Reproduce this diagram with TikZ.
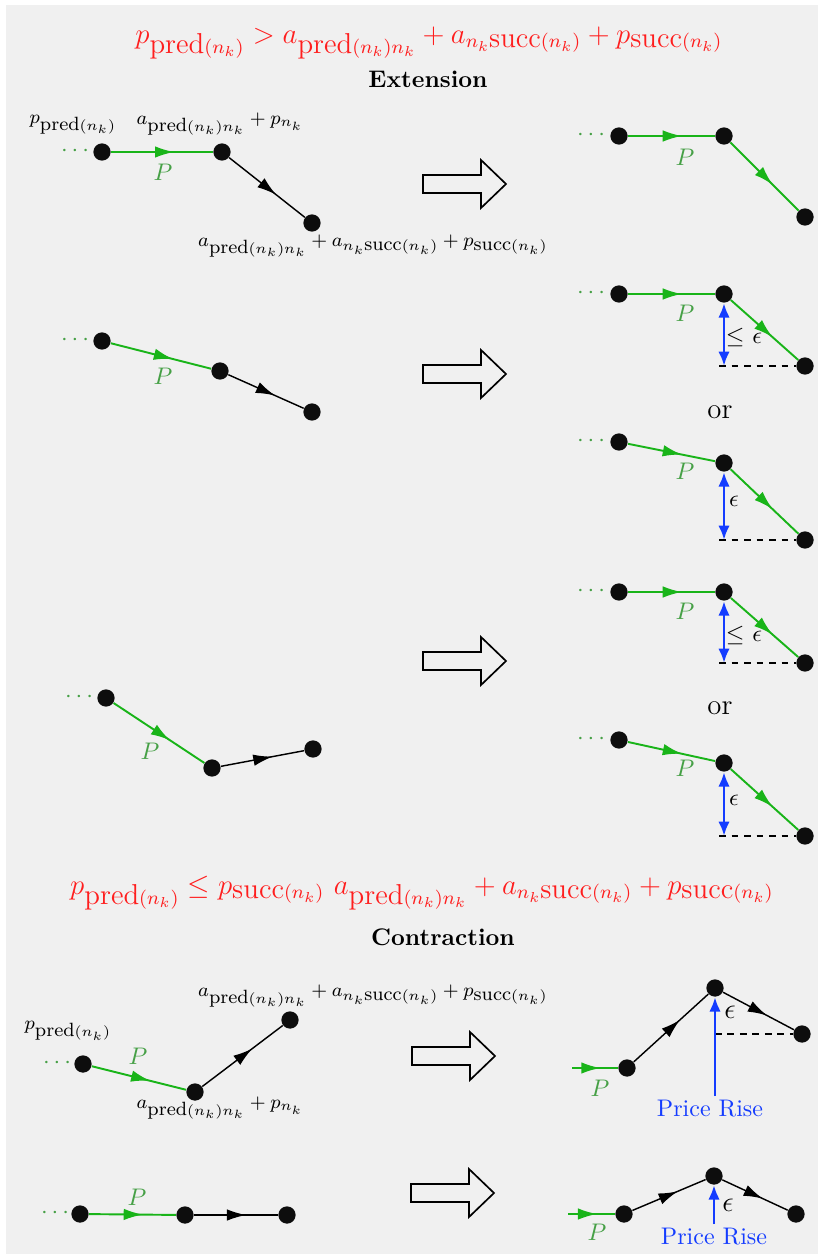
\documentclass[tikz,border=0pt]{standalone}
\usetikzlibrary{arrows.meta,decorations.markings,calc}

\definecolor{panel}{RGB}{240,240,240}
\definecolor{pathgreen}{RGB}{25,180,25}
\definecolor{labgreen}{RGB}{70,160,70}
\definecolor{riseblue}{RGB}{20,60,255}
\definecolor{condred}{RGB}{255,30,30}

\newcommand\mypred{\mbox{pred}}
\newcommand\mysucc{\mbox{succ}}

\tikzset{
  vtx/.style={circle,fill=black!95,inner sep=0pt,minimum size=7.2pt},
  midarr/.style={postaction={decorate},decoration={markings,
      mark=at position #1 with {\arrow{Latex[length=8pt,width=4.8pt]}}}},
  midarr/.default=0.62,
  pathedge/.style={pathgreen,line width=0.8pt,midarr},
  plainedge/.style={black,line width=0.6pt,midarr},
  plab/.style={text=labgreen,inner sep=1pt},
  ldots/.style={text=labgreen,inner sep=0pt},
  lab/.style={font=\footnotesize,inner sep=0.5pt},
  gap/.style={riseblue,line width=1.2pt,{Latex[length=6pt,width=4.8pt]}-{Latex[length=6pt,width=4.8pt]}},
  rise/.style={riseblue,line width=1.2pt,-{Latex[length=6pt,width=4.8pt]}},
  level/.style={black,line width=0.5pt,dash pattern=on 2.8pt off 2.4pt},
  cond/.style={text=condred,font=\large},
  implies/.pic={\draw[line width=0.7pt,fill=panel]
      (0,-9) -- (58,-9) -- (58,-24) -- (83,0) -- (58,24) -- (58,9) -- (0,9) -- cycle;},
}

\begin{document}
\begin{tikzpicture}[x=0.4167pt,y=-0.4167pt]
\useasboundingbox (0,0) rectangle (824,1258);
\fill[panel] (6,5) rectangle (818,1254);

% ---------------- Extension ----------------
\node[cond] (hx) at (429,43) {$p_{\mypred(n_k)} > a_{\mypred(n_k)n_k} + a_{n_k\mysucc(n_k)} + p_{\mysucc(n_k)}$};
\node[font=\bfseries] (tx) at (428,79) {Extension};

% case 1
\node[ldots] (d1) at (75,151) {$\cdots$};
\node[vtx] (a1) at (102,152) {};
\node[vtx] (b1) at (222,152) {};
\node[vtx] (c1) at (312,223) {};
\draw[pathedge] (a1) -- (b1);
\draw[plainedge] (b1) -- (c1);
\node[plab] (p1) at (163,172) {$P$};
\node[lab] (l1a) at (73,125) {$p_{\mypred(n_k)}$};
\node[lab] (l1b) at (220,124) {$a_{\mypred(n_k)n_k}+p_{n_k}$};
\node[lab] (l1c) at (373,246) {$a_{\mypred(n_k)n_k}+a_{n_k\mysucc(n_k)}+p_{\mysucc(n_k)}$};
\pic at (423,184) {implies};

\node[ldots] (e1) at (591,135) {$\cdots$};
\node[vtx] (r1a) at (619,136) {};
\node[vtx] (r1b) at (724,136) {};
\node[vtx] (r1c) at (805,217) {};
\draw[pathedge] (r1a) -- (r1b);
\draw[pathedge] (r1b) -- (r1c);
\node[plab] (q1) at (685,157) {$P$};

% case 2
\node[ldots] (d2) at (75,340) {$\cdots$};
\node[vtx] (a2) at (102,341) {};
\node[vtx] (b2) at (220,371) {};
\node[vtx] (c2) at (312,412) {};
\draw[pathedge] (a2) -- (b2);
\draw[plainedge] (b2) -- (c2);
\node[plab] (p2) at (163,376) {$P$};
\pic at (423,374) {implies};

\node[ldots] (e2a) at (591,293) {$\cdots$};
\node[vtx] (r2a) at (619,294) {};
\node[vtx] (r2b) at (724,294) {};
\node[vtx] (r2c) at (805,366) {};
\draw[pathedge] (r2a) -- (r2b);
\draw[pathedge] (r2b) -- (r2c);
\node[plab] (q2a) at (685,313) {$P$};
\coordinate (h2a) at (r2b |- r2c);
\draw[level] ([xshift=-2pt]h2a) -- (r2c);
\draw[gap] (r2b.south) -- (h2a);
\node (g2a) at (744,338) {$\leq$ $\epsilon$};

\node[font=\large] (or2) at (720,412) {or};

\node[ldots] (e2b) at (591,441) {$\cdots$};
\node[vtx] (r2d) at (619,442) {};
\node[vtx] (r2e) at (724,463) {};
\node[vtx] (r2f) at (805,540) {};
\draw[pathedge] (r2d) -- (r2e);
\draw[pathedge] (r2e) -- (r2f);
\node[plab] (q2b) at (685,471) {$P$};
\coordinate (h2b) at (r2e |- r2f);
\draw[level] ([xshift=-2pt]h2b) -- (r2f);
\draw[gap] (r2e.south) -- (h2b);
\node (g2b) at (734,501) {$\epsilon$};

% case 3
\node[ldots] (d3) at (79,697) {$\cdots$};
\node[vtx] (a3) at (106,698) {};
\node[vtx] (b3) at (212,768) {};
\node[vtx] (c3) at (313,749) {};
\draw[pathedge] (a3) -- (b3);
\draw[plainedge] (b3) -- (c3);
\node[plab] (p3) at (150,751) {$P$};
\pic at (423,661) {implies};

\node[ldots] (e3a) at (591,591) {$\cdots$};
\node[vtx] (r3a) at (619,592) {};
\node[vtx] (r3b) at (724,592) {};
\node[vtx] (r3c) at (805,663) {};
\draw[pathedge] (r3a) -- (r3b);
\draw[pathedge] (r3b) -- (r3c);
\node[plab] (q3a) at (685,611) {$P$};
\coordinate (h3a) at (r3b |- r3c);
\draw[level] ([xshift=-2pt]h3a) -- (r3c);
\draw[gap] (r3b.south) -- (h3a);
\node (g3a) at (744,635) {$\leq$ $\epsilon$};

\node[font=\large] (or3) at (720,708) {or};

\node[ldots] (e3b) at (591,739) {$\cdots$};
\node[vtx] (r3d) at (619,740) {};
\node[vtx] (r3e) at (724,763) {};
\node[vtx] (r3f) at (805,836) {};
\draw[pathedge] (r3d) -- (r3e);
\draw[pathedge] (r3e) -- (r3f);
\node[plab] (q3b) at (685,768) {$P$};
\coordinate (h3b) at (r3e |- r3f);
\draw[level] ([xshift=-2pt]h3b) -- (r3f);
\draw[gap] (r3e.south) -- (h3b);
\node (g3b) at (734,800) {$\epsilon$};

% ---------------- Contraction ----------------
\node[cond] (hc) at (422,893) {$p_{\mypred(n_k)} \leq p_{\mysucc(n_k)}\ a_{\mypred(n_k)n_k} + a_{n_k\mysucc(n_k)} + p_{\mysucc(n_k)}$};
\node[font=\bfseries] (tc) at (443,937) {Contraction};

% case 4
\node[lab] (l4a) at (68,1031) {$p_{\mypred(n_k)}$};
\node[ldots] (d4) at (57,1063) {$\cdots$};
\node[vtx] (a4) at (83,1064) {};
\node[vtx] (b4) at (195,1092) {};
\node[vtx] (c4) at (290,1020) {};
\draw[pathedge] (a4) -- (b4);
\draw[plainedge] (b4) -- (c4);
\node[plab] (p4) at (138,1056) {$P$};
\node[lab] (l4b) at (220,1108) {$a_{\mypred(n_k)n_k}+p_{n_k}$};
\node[lab] (l4c) at (373,996) {$a_{\mypred(n_k)n_k}+a_{n_k\mysucc(n_k)}+p_{\mysucc(n_k)}$};
\pic at (412,1056) {implies};

\coordinate (s4) at (572,1068);
\node[vtx] (r4a) at (627,1068) {};
\node[vtx] (r4b) at (715,988) {};
\node[vtx] (r4c) at (802,1034) {};
\draw[pathedge] (s4) -- (r4a);
\draw[plainedge] (r4a) -- (r4b);
\draw[plainedge] (r4b) -- (r4c);
\node[plab] (q4) at (600,1088) {$P$};
\coordinate (u4) at (715,1096);
\draw[level] (r4b |- r4c) -- (r4c);
\draw[rise] (u4) -- (r4b.south);
\node[font=\large] (g4) at (730,1012) {$\epsilon$};
\node[text=riseblue] (pr4) at (710,1109) {Price Rise};

% case 5
\node[ldots] (d5) at (55,1213) {$\cdots$};
\node[vtx] (a5) at (80,1214) {};
\node[vtx] (b5) at (185,1215) {};
\node[vtx] (c5) at (287,1215) {};
\draw[pathedge] (a5) -- (b5);
\draw[plainedge] (b5) -- (c5);
\node[plab] (p5) at (137,1197) {$P$};
\pic at (411,1193) {implies};

\coordinate (s5) at (568,1214);
\node[vtx] (r5a) at (624,1214) {};
\node[vtx] (r5b) at (714,1176) {};
\node[vtx] (r5c) at (796,1214) {};
\draw[pathedge] (s5) -- (r5a);
\draw[plainedge] (r5a) -- (r5b);
\draw[plainedge] (r5b) -- (r5c);
\node[plab] (q5) at (597,1232) {$P$};
\coordinate (u5) at (714,1224);
\draw[rise] (u5) -- (r5b.south);
\node[font=\large] (g5) at (728,1205) {$\epsilon$};
\node[text=riseblue] (pr5) at (714,1237) {Price Rise};
\end{tikzpicture}
\end{document}
